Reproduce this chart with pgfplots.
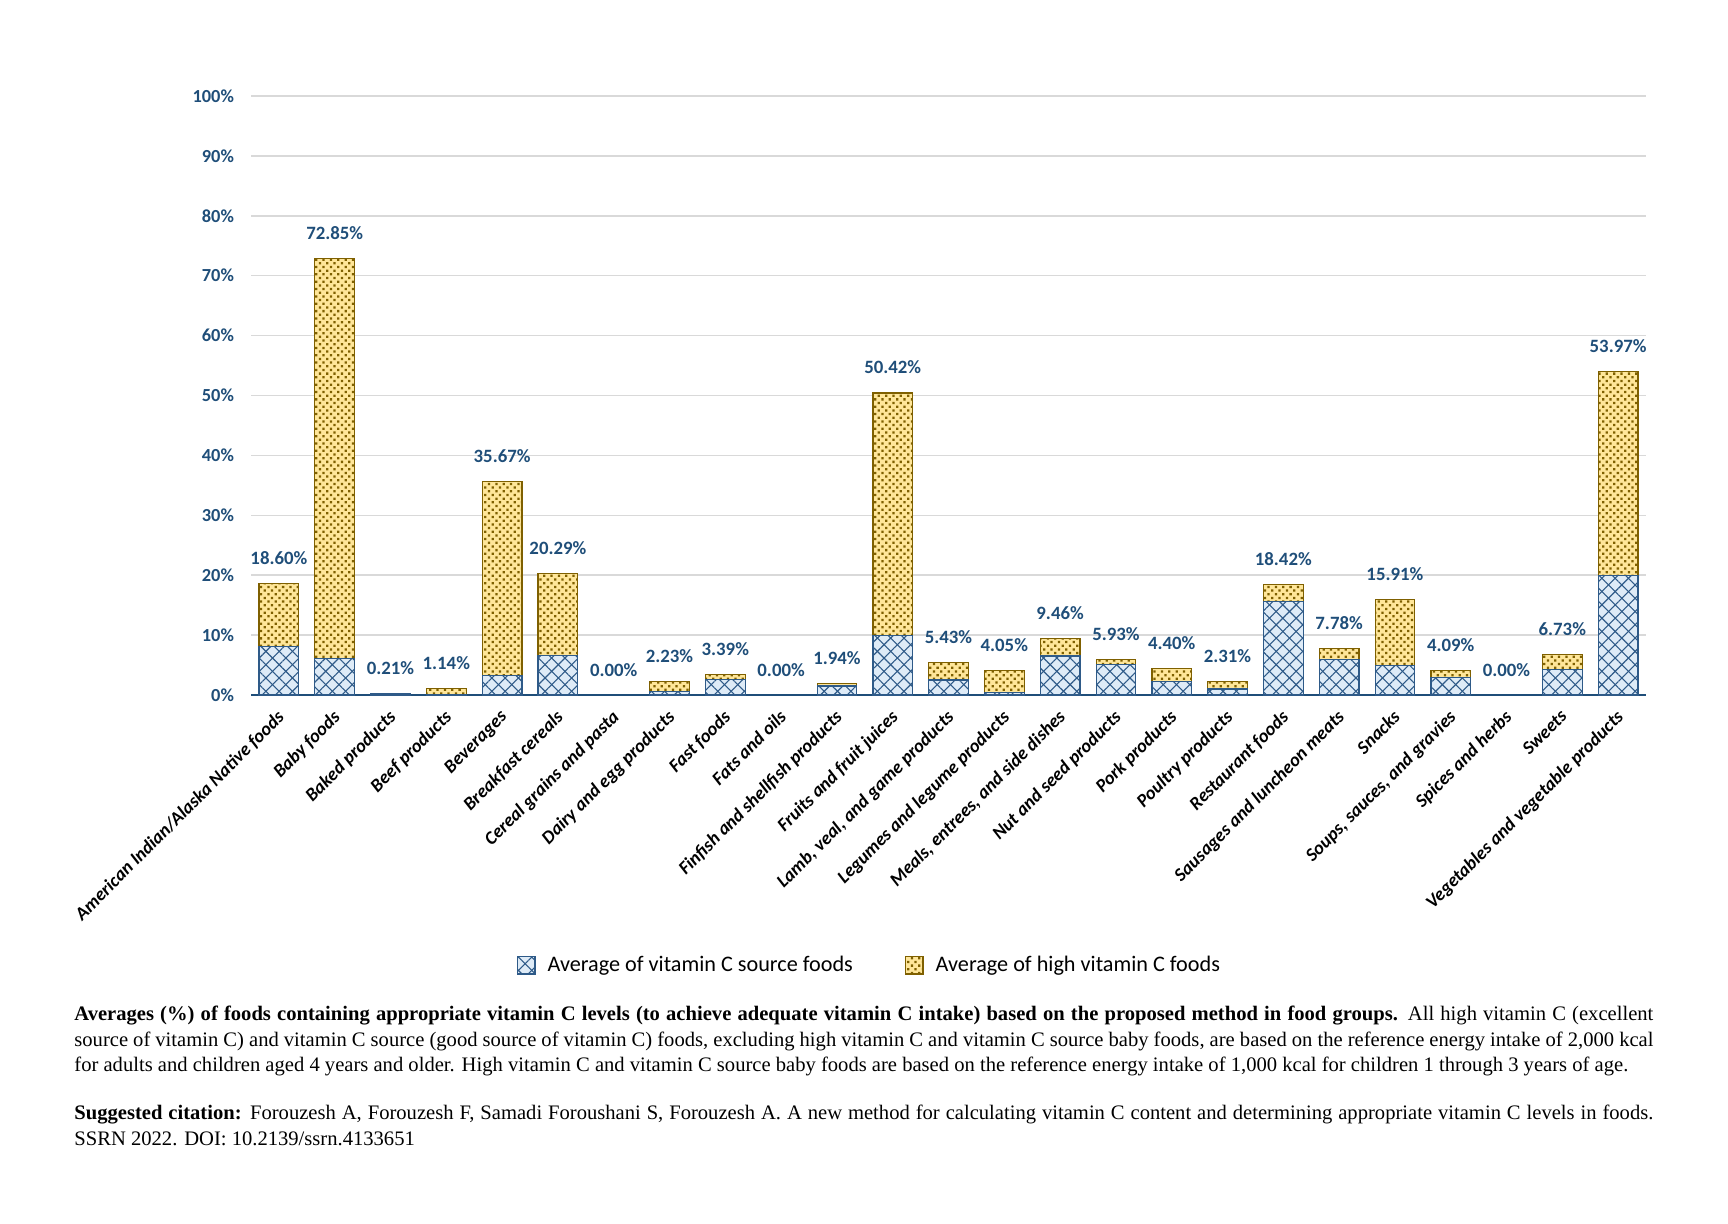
\documentclass[border=0pt]{standalone}
\usepackage{fontspec}
\setmainfont{Liberation Serif}
\newfontfamily\calibri{Carlito}
\usepackage{pgfplots}
\usepackage{pgfplotstable}
\pgfplotsset{compat=1.18}
\usetikzlibrary{patterns.meta}

\definecolor{labelblue}{HTML}{1F4E79}
\definecolor{srcfill}{HTML}{DEEBF7}
\definecolor{srcline}{HTML}{2E5A88}
\definecolor{highfill}{HTML}{FFE699}
\definecolor{highdot}{HTML}{7F6000}
\definecolor{gridgray}{HTML}{D9D9D9}

% x, vitamin C source, high vitamin C, total
\pgfplotstableread{
x  src   high   total
0  8.10  10.50  18.60
1  6.10  66.75  72.85
2  0.21  0.00   0.21
3  0.10  1.04   1.14
4  3.30  32.37  35.67
5  6.60  13.69  20.29
6  0.00  0.00   0.00
7  0.60  1.63   2.23
8  2.60  0.79   3.39
9  0.00  0.00   0.00
10 1.50  0.44   1.94
11 10.00 40.42  50.42
12 2.50  2.93   5.43
13 0.40  3.65   4.05
14 6.50  2.96   9.46
15 5.10  0.83   5.93
16 2.20  2.20   4.40
17 1.00  1.31   2.31
18 15.60 2.82   18.42
19 5.90  1.88   7.78
20 4.90  11.01  15.91
21 2.95  1.14   4.09
22 0.00  0.00   0.00
23 4.20  2.53   6.73
24 20.00 33.97  53.97
}\vitc

\pgfplotsset{
  frame/.style={
    at={(125.5pt,264pt)}, anchor=south west,
    scale only axis, width=697.5pt, height=299.5pt,
    xmin=-0.5, xmax=24.5, ymin=0, ymax=100},
}

\begin{document}
\begin{tikzpicture}
\path[use as bounding box] (0,0) rectangle (864pt,611.5pt);
\begin{axis}[
  frame,
  ybar stacked, bar width=0.71,
  axis x line*=bottom, axis y line*=left,
  y axis line style={draw=none},
  x axis line style={draw=labelblue, line width=1.2pt},
  major tick length=0pt,
  ymajorgrids, grid style={draw=gridgray, line width=0.75pt},
  ytick={0,10,...,100},
  yticklabel={\pgfmathprintnumber{\tick}\%},
  /pgf/number format/assume math mode=true,
  yticklabel style={font=\calibri\bfseries\fontsize{9.2}{11}\selectfont, text=labelblue, xshift=-5pt},
  xtick=data,
  xticklabels={{American Indian/Alaska Native foods},{Baby foods},{Baked products},{Beef products},{Beverages},{Breakfast cereals},{Cereal grains and pasta},{Dairy and egg products},{Fast foods},{Fats and oils},{Finfish and shellfish products},{Fruits and fruit juices},{Lamb, veal, and game products},{Legumes and legume products},{Meals, entrees, and side dishes},{Nut and seed products},{Pork products},{Poultry products},{Restaurant foods},{Sausages and luncheon meats},{Snacks},{Soups, sauces, and gravies},{Spices and herbs},{Sweets},{Vegetables and vegetable products}},
  xticklabel style={font=\calibri\bfseries\itshape\fontsize{9.3}{11}\selectfont, xshift=-1.5pt, yshift=-6.7pt, rotate=45, anchor=north east, inner sep=0pt},
  legend style={at={(0.444,-0.451)}, anchor=center, draw=none, legend columns=2,
    font=\calibri\fontsize{11.1}{13}\selectfont,
    /tikz/every odd column/.append style={column sep=4pt},
    /tikz/every even column/.append style={column sep=24pt}},
  legend image code/.code={\draw[#1] (0pt,-4.4pt) rectangle (8.8pt,4.4pt);},
  legend cell align=left,
]
\addplot[draw=srcline, line width=0.6pt, fill=srcfill,
  postaction={pattern={Lines[angle=45,distance=4.7pt,line width=0.55pt]}, pattern color=srcline},
  postaction={pattern={Lines[angle=-45,distance=4.7pt,line width=0.55pt]}, pattern color=srcline}]
  table[x=x, y=src] {\vitc};
\addlegendentry{Average of vitamin C source foods}
\addplot[draw=highdot, line width=0.6pt, fill=highfill,
  postaction={pattern={Dots[distance=2.6pt,radius=0.8pt,angle=45]}, pattern color=highdot}]
  table[x=x, y=high] {\vitc};
\addlegendentry{Average of high vitamin C foods}
\draw[labelblue, line width=1.2pt] (axis cs:-0.5,0) -- (axis cs:24.5,0);
\end{axis}
% same frame again, only for the total labels above each stack
\begin{axis}[frame, hide axis]
\addplot[only marks, mark=none,
  nodes near coords={\pgfmathprintnumber[fixed,fixed zerofill,precision=2]{\pgfplotspointmeta}\%},
  point meta=explicit,
  /pgf/number format/assume math mode=true,
  every node near coord/.append style={anchor=center, yshift=12.7pt, text=labelblue,
    font=\calibri\bfseries\fontsize{9.4}{11}\selectfont}]
  table[x=x, y=total, meta=total] {\vitc};
\end{axis}
\node[anchor=north west, inner sep=0pt, text width=789.5pt, align=justify,
  font=\fontsize{10.3}{12.7}\selectfont] at (37pt,108.5pt)
  {\textbf{Averages (\%) of foods containing appropriate vitamin C levels (to achieve adequate vitamin C intake) based on the proposed method in food groups.} All high vitamin C (excellent\linebreak source of vitamin C) and vitamin C source (good source of vitamin C) foods, excluding high vitamin C and vitamin C source baby foods, are based on the reference energy intake of 2,000 kcal\linebreak for adults and children aged 4 years and older. High vitamin C and vitamin C source baby foods are based on the reference energy intake of 1,000 kcal for children 1 through 3 years of age.};
\node[anchor=north west, inner sep=0pt, text width=789.5pt, align=justify,
  font=\fontsize{10.3}{12.7}\selectfont] at (37pt,59pt)
  {\textbf{Suggested citation:} Forouzesh A, Forouzesh F, Samadi Foroushani S, Forouzesh A. A new method for calculating vitamin C content and determining appropriate vitamin C levels in foods.\linebreak SSRN 2022. DOI: 10.2139/ssrn.4133651};
\end{tikzpicture}
\end{document}
